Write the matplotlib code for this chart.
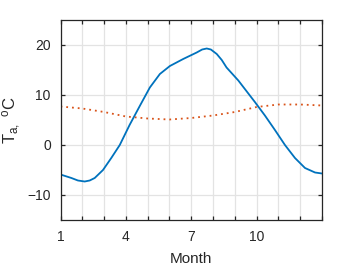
import matplotlib
matplotlib.use("Agg")
import matplotlib.pyplot as plt

plt.rcParams['font.family'] = ['Liberation Sans', 'DejaVu Sans']
plt.rcParams['mathtext.fontset'] = 'custom'
plt.rcParams['mathtext.rm'] = 'Liberation Sans'
plt.rcParams['mathtext.it'] = 'Liberation Sans'

# air temperature
month_air = [1.0, 1.5, 1.8, 2.11, 2.34, 2.57, 2.95, 3.33, 3.72, 4.17, 4.65,
             5.1, 5.56, 6.02, 6.63, 7.25, 7.5, 7.71, 7.9, 8.17, 8.4, 8.62,
             9.16, 9.46, 9.92, 10.38, 10.84, 11.3, 11.76, 12.22, 12.68, 13.0]
temp_air = [-5.9, -6.6, -7.1, -7.3, -7.1, -6.6, -5.0, -2.6, 0.0, 4.0, 7.9,
            11.5, 14.2, 15.8, 17.2, 18.5, 19.1, 19.3, 19.1, 18.2, 17.0, 15.5,
            12.9, 11.2, 8.6, 5.9, 3.0, 0.0, -2.6, -4.6, -5.5, -5.7]

# second series (dotted)
month_ref = [1, 2, 3, 4, 5, 6, 7, 8, 9, 10, 11, 12, 13]
temp_ref = [7.7, 7.3, 6.6, 5.7, 5.3, 5.1, 5.4, 5.9, 6.6, 7.6, 8.1, 8.1, 7.9]

xtick_labels = ['1', '', '', '4', '', '', '7', '', '', '10', '', '', '']
yticks = [-10, 0, 10, 20]

fig = plt.figure(figsize=(3.56, 2.67), dpi=100)
ax = fig.add_axes([60.5 / 356, 47 / 267, 261.5 / 356, 200 / 267])

ax.plot(month_air, temp_air, color='#0072BD', linewidth=1.3)
ax.plot(month_ref, temp_ref, color='#D95319', linestyle=(0, (1, 2.2)), linewidth=1.3)

ax.set_xlim(1, 13)
ax.set_ylim(-15, 25)
ax.set_xticks(range(1, 14))
ax.set_xticklabels(xtick_labels)
ax.set_yticks(yticks)

ax.grid(True, color='#e3e3e3', linewidth=0.9)
ax.set_axisbelow(True)
for s in ax.spines.values():
    s.set_color('#262626')
    s.set_linewidth(0.9)
ax.tick_params(direction='in', length=3, width=0.9, colors='#262626',
               labelsize=10, top=True, right=True, pad=7)
for lab in ax.get_xticklabels() + ax.get_yticklabels():
    lab.set_color('#262626')

ax.set_xlabel('Month', fontsize=11, color='#262626', labelpad=6)
ax.set_ylabel(r'T$_{a,}$ $^{o}$C', fontsize=12, color='#262626', labelpad=3)

fig.savefig('out.png', dpi=100)
